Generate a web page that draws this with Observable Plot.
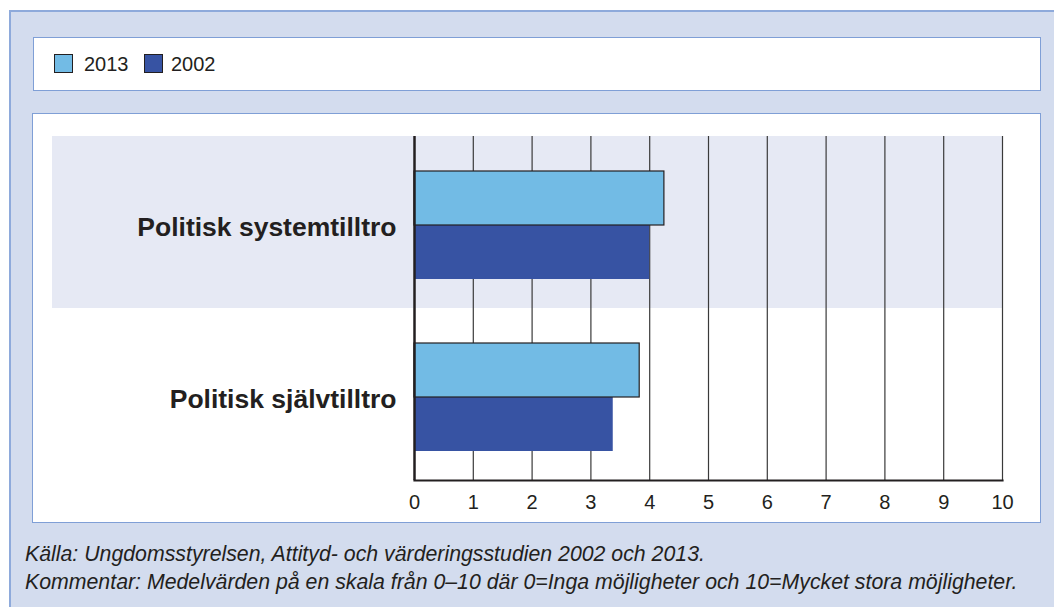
<!DOCTYPE html>
<html>
<head>
<meta charset="utf-8">
<script src="https://cdn.jsdelivr.net/npm/d3@7"></script>
<script src="https://cdn.jsdelivr.net/npm/@observablehq/plot@0.6"></script>
<style>
  html, body { margin: 0; padding: 0; background: #ffffff; }
  body { width: 1054px; height: 607px; position: relative; overflow: hidden; font-family: "Liberation Sans", Arial, sans-serif; color: #231f20; }
  #outer { position: absolute; left: 9px; top: 10px; width: 1100px; height: 700px; background: #d3dcee; border-top: 2px solid #8eaadb; border-left: 2px solid #8eaadb; box-sizing: border-box; }
  #legendbox { position: absolute; left: 33px; top: 37px; width: 1008px; height: 54px; background: #fff; border: 1.5px solid #7f9fd6; box-sizing: border-box; }
  #chartbox { position: absolute; left: 32px; top: 113px; width: 1009px; height: 410px; background: #fff; border: 1.5px solid #7f9fd6; box-sizing: border-box; }
  .sw { position: absolute; top: 54px; width: 19px; height: 19px; border: 1px solid #231f20; box-sizing: border-box; }
  .lt { position: absolute; top: 54px; font-size: 20px; line-height: 20px; color: #231f20; }
  #caption { position: absolute; left: 25px; top: 540px; font-size: 21.3px; line-height: 28px; font-style: italic; color: #231f20; white-space: nowrap; }
  #chart { position: absolute; left: 0; top: 0; }
</style>
</head>
<body>
<div id="outer"></div>
<div id="legendbox"></div>
<div id="chartbox"></div>
<div id="legend"></div>
<div id="chart"></div>
<div id="caption"></div>
<script>
const categories = ["Politisk systemtilltro", "Politisk självtilltro"];
const years = ["2013", "2002"];
const values2013 = [4.25, 3.83];
const values2002 = [4.0, 3.38];
const xTicks = [0, 1, 2, 3, 4, 5, 6, 7, 8, 9, 10];
const colors = ["#72bbe5", "#3753a3"];
const captionLines = [
  "Källa: Ungdomsstyrelsen, Attityd- och värderingsstudien 2002 och 2013.",
  "Kommentar: Medelvärden på en skala från 0–10 där 0=Inga möjligheter och 10=Mycket stora möjligheter."
];

const data = categories.flatMap((c, i) => [
  {cat: c, year: years[0], value: values2013[i]},
  {cat: c, year: years[1], value: values2002[i]}
]);

// legend
const legend = document.getElementById("legend");
const swLeft = [54, 144], txtLeft = [84, 171];
years.forEach((y, i) => {
  const s = document.createElement("div");
  s.className = "sw"; s.style.left = swLeft[i] + "px"; s.style.background = colors[i];
  legend.appendChild(s);
  const t = document.createElement("div");
  t.className = "lt"; t.style.left = txtLeft[i] + "px"; t.textContent = y;
  legend.appendChild(t);
});

// caption
document.getElementById("caption").innerHTML = captionLines.map(l => `<div>${l}</div>`).join("");

const ink = "#231f20";
const plot = Plot.plot({
  width: 1054,
  height: 607,
  marginLeft: 414,
  marginRight: 52,
  marginTop: 136,
  marginBottom: 127,
  style: {background: "transparent", fontFamily: "'Liberation Sans', Arial, sans-serif", fontSize: "20px", color: ink},
  x: {domain: [0, 10]},
  y: {domain: years, paddingInner: 0, paddingOuter: 0.59, align: 0.55, axis: null},
  fy: {domain: categories, padding: 0, axis: null},
  color: {domain: years, range: colors},
  marks: [
    Plot.rect([categories[0]], {fy: d => d, x1: 0, x2: 10, fill: "#e6e9f4", insetLeft: -362}),
    Plot.ruleX(xTicks.slice(1), {stroke: "#3a3a3a", strokeWidth: 1.2}),
    Plot.barX(data.filter(d => d.year === years[1]), {x: "value", y: "year", fy: "cat", fill: "year"}),
    Plot.barX(data.filter(d => d.year === years[0]), {x: "value", y: "year", fy: "cat", fill: "year", stroke: ink, strokeWidth: 1.2}),
    Plot.ruleX([0], {stroke: ink, strokeWidth: 2.5}),
    Plot.frame({anchor: "bottom", facet: "super", stroke: ink, strokeWidth: 2.2}),
    Plot.axisX(xTicks, {tickSize: 0, tickPadding: 14, fontSize: 20, tickFormat: d => String(d), label: null, fill: ink}),
    Plot.axisFy({anchor: "left", tickSize: 0, tickPadding: 18, fontSize: 26.5, fontWeight: "bold", dy: 5, label: null, fill: ink})
  ]
});
document.getElementById("chart").appendChild(plot);
</script>
</body>
</html>
